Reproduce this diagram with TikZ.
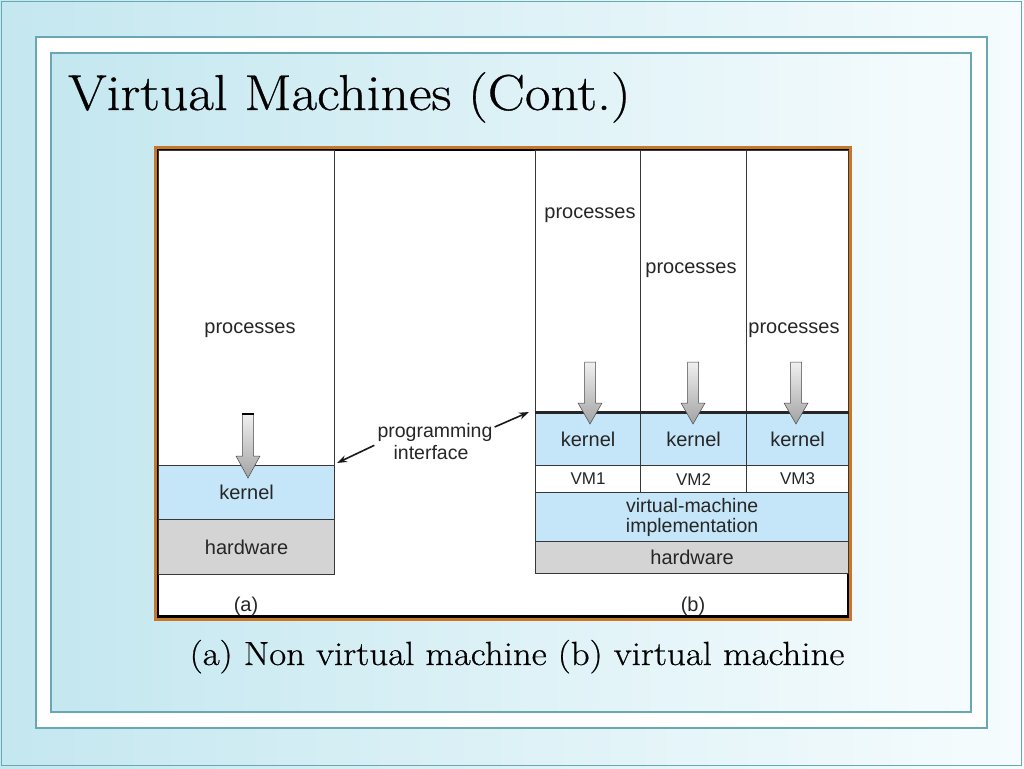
\documentclass[tikz,border=0pt]{standalone}
\usepackage{fontspec}
\newfontfamily\arialf{Liberation Sans}
\newfontfamily\slidefont[FakeBold=0.6,FakeStretch=1.1]{Latin Modern Roman}
\usetikzlibrary{arrows.meta}
\definecolor{bgblue}{RGB}{196,231,240}
\definecolor{bgwhite}{RGB}{246,252,253}
\definecolor{teal}{RGB}{104,168,178}
\definecolor{kblue}{RGB}{197,230,248}
\definecolor{hgray}{RGB}{212,212,212}
\definecolor{lgray}{RGB}{55,55,55}
\definecolor{orng}{RGB}{200,118,40}
\tikzset{
  cell/.style={draw=lgray, line width=1.2pt, inner sep=0pt, anchor=north west, font=\arialf\fontsize{20}{21}\selectfont, text=black!85, align=center},
  kcell/.style={cell, fill=kblue},
  hcell/.style={cell, fill=hgray},
  wcell/.style={cell, fill=white},
  lbl/.style={font=\arialf\fontsize{20}{21}\selectfont, text=black!85, inner sep=0pt},
  parr/.style={line width=1.6pt, black!90, -{Stealth[length=10pt,width=7pt]}},
  darr/.style={top color=gray!12, bottom color=gray!72, draw=gray!55!black, line width=0.5pt}
}
\newcommand{\downarr}[4]{% x, top, headtop, tip
  \shadedraw[darr] (#1-5.5,#2) -- (#1+5.5,#2) -- (#1+5.5,#3) -- (#1+12,#3) -- (#1,#4) -- (#1-12,#3) -- (#1-5.5,#3) -- cycle;}
\begin{document}
\begin{tikzpicture}[x=1pt,y=-1pt]
\useasboundingbox (0,0) rectangle (1024,768);
% slide background
\shade[left color=bgblue, right color=bgwhite] (0,0) rectangle (1024,768);
\draw[teal, line width=1pt] (1.5,1.5) rectangle (1021.5,765.5);
\draw[teal, line width=1.5pt, fill=white] (36,37) rectangle (987,728);
\shade[left color=bgblue, right color=bgwhite] (51,53) rectangle (971,712);
\draw[teal, line width=1.5pt] (51,53) rectangle (971,712);
% title
\node[anchor=base west, inner sep=0pt, font=\slidefont\fontsize{50.5}{60}\selectfont] (title) at (68,110) {Virtual Machines (Cont.)};
% figure frame
\draw[orng, line width=3pt, fill=white] (155.5,147.5) rectangle (850.5,619.5);
\draw[black, line width=1.2pt] (158,150) rectangle (848,617);
\draw[black, line width=2.5pt] (157,616.5) -- (849,616.5);
% (a) non virtual machine
\node[wcell, minimum width=176, minimum height=315] (pa) at (158,150) {};
\node[kcell, minimum width=176, minimum height=54] (ka) at (158,465) {kernel};
\node[hcell, minimum width=176, minimum height=55] (ha) at (158,519) {hardware};
\node[lbl] (tpa) at (250,330) {processes};
\downarr{248}{414}{456}{478}
\draw[black, line width=1.5pt] (242,414) -- (254,414);
% (b) virtual machine
\node[wcell, minimum width=105, minimum height=262] (p1) at (535,150) {};
\node[wcell, minimum width=106, minimum height=262] (p2) at (640,150) {};
\node[wcell, minimum width=102, minimum height=262] (p3) at (746,150) {};
\node[lbl] (tp1) at (590,215) {processes};
\node[lbl] (tp2) at (691,270) {processes};
\node[lbl] (tp3) at (794,330) {processes};
\node[kcell, minimum width=105, minimum height=53] (k1) at (535,412) {kernel};
\node[kcell, minimum width=106, minimum height=53] (k2) at (640,412) {kernel};
\node[kcell, minimum width=102, minimum height=53] (k3) at (746,412) {kernel};
\node[wcell, minimum width=105, minimum height=27, font=\arialf\fontsize{17}{19}\selectfont] (v1) at (535,465) {VM1};
\node[wcell, minimum width=106, minimum height=27, font=\arialf\fontsize{17}{19}\selectfont] (v2) at (640,465) {VM2};
\node[wcell, minimum width=102, minimum height=27, font=\arialf\fontsize{17}{19}\selectfont] (v3) at (746,465) {VM3};
\node[kcell, minimum width=313, minimum height=49, font=\arialf\fontsize{19.5}{20}\selectfont] (vmi) at (535,492) {virtual-machine\\implementation};
\node[hcell, minimum width=313, minimum height=32] (hb) at (535,541) {hardware};
\draw[black!85, line width=3pt] (k1.north west) -- (k3.north east);
\downarr{590}{362}{403}{424}
\downarr{693}{362}{403}{424}
\downarr{796}{362}{403}{424}
% programming interface
\node[lbl, font=\arialf\fontsize{19.5}{21}\selectfont] (pi1) at (435,432) {programming};
\node[lbl, font=\arialf\fontsize{19.5}{21}\selectfont] (pi2) at (431,453) {interface};
\coordinate (ia) at (337,463);
\coordinate (ib) at (529,412);
\draw[parr] ([shift={(-3,4)}]pi1.south west) -- (ia);
\draw[parr] ([shift={(2,-5)}]pi1.east) -- (ib);
% sub labels
\node[lbl] (la) at (246,606) {(a)};
\node[lbl] (lb) at (693,606) {(b)};
% caption
\node[anchor=base, inner sep=0pt, font=\slidefont\fontsize{33.5}{38}\selectfont] (cap) at (517,665) {(a) Non virtual machine (b) virtual machine};
\end{tikzpicture}
\end{document}
